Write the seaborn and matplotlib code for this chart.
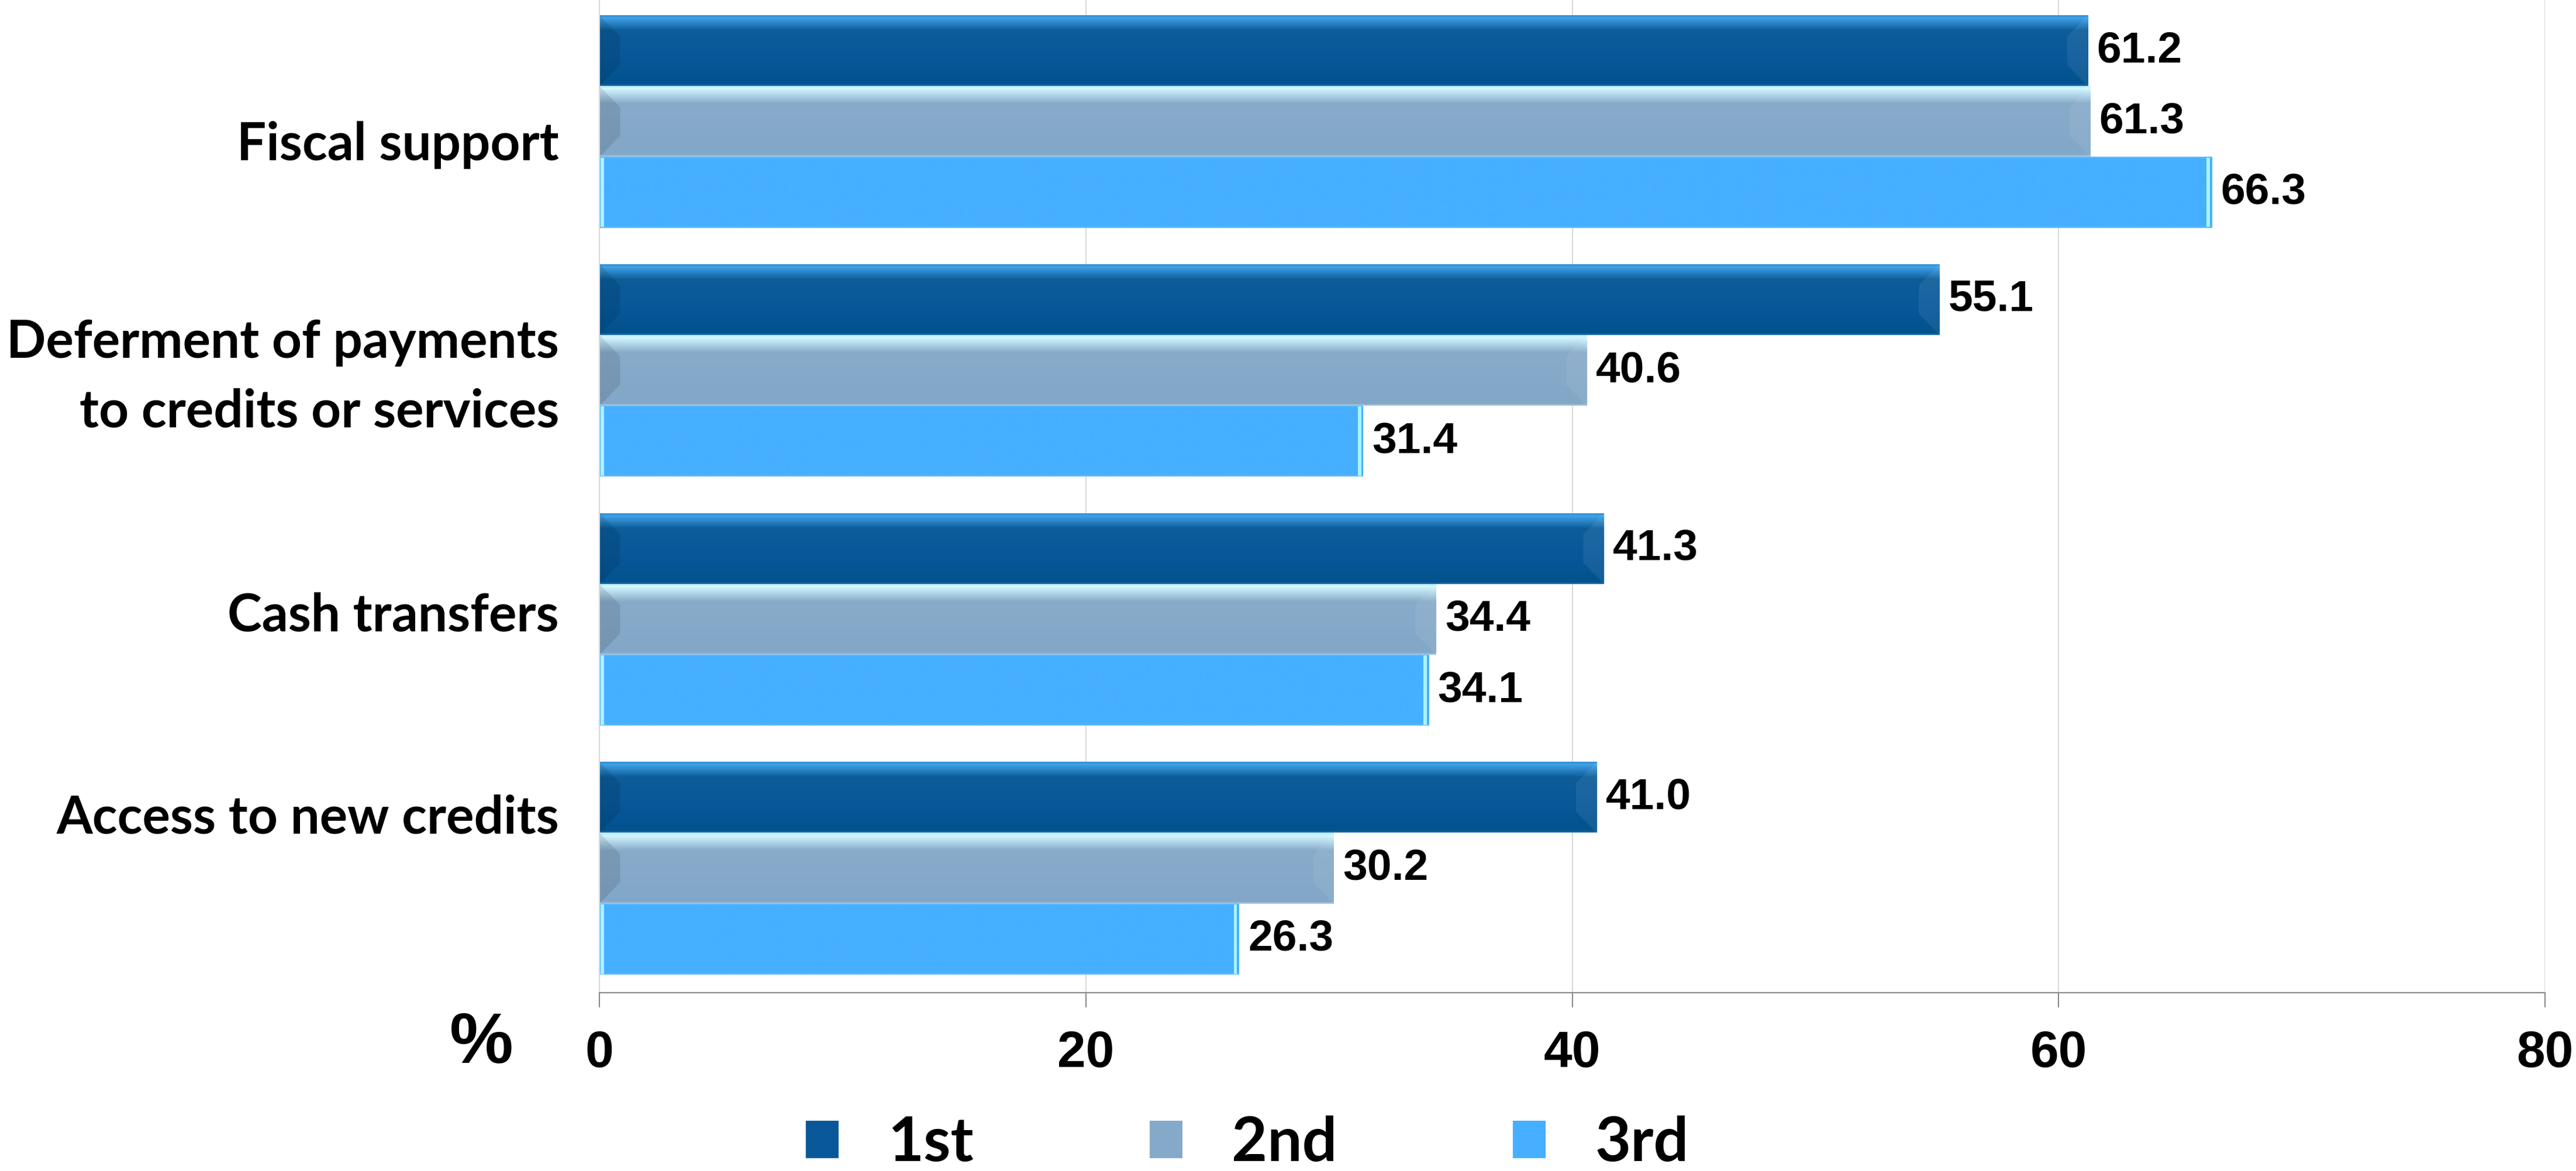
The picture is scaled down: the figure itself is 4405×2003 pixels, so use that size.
import numpy as np
import pandas as pd
import matplotlib
matplotlib.use("Agg")
import matplotlib.pyplot as plt
from matplotlib.colors import LinearSegmentedColormap
from matplotlib.font_manager import FontProperties
from matplotlib.patches import Rectangle, Polygon
from matplotlib.transforms import blended_transform_factory, ScaledTranslation
import seaborn as sns

# ---- data -------------------------------------------------------------
categories = [
    "Fiscal support",
    "Deferment of payments\nto credits or services",
    "Cash transfers",
    "Access to new credits",
]
series = ["1st", "2nd", "3rd"]
first = [61.2, 55.1, 41.3, 41.0]
second = [61.3, 40.6, 34.4, 30.2]
third = [66.3, 31.4, 34.1, 26.3]
x_ticks = [0, 20, 40, 60, 80]

base_colors = ["#08589A", "#85A9C8", "#46AFFF"]

# vertical shading of each series (position from bar top, colour)
shades = {
    "1st": [(0.0, "#2A84C8"), (0.04, "#42A2E8"), (0.22, "#0C5D99"),
            (0.6, "#08589A"), (0.97, "#02528E"), (1.0, "#1F6FAE")],
    "2nd": [(0.0, "#B8E4FA"), (0.04, "#D2F8FF"), (0.25, "#88ABCA"),
            (0.97, "#82A7C7"), (1.0, "#A9CBE6")],
    "3rd": [(0.0, "#63BDFF"), (0.03, "#46AFFF"), (0.97, "#46AFFF"),
            (1.0, "#63BDFF")],
}

# offset of each category label's last baseline below its group centre (points)
label_drop_pt = [47.5, 70.0, 14.5, -43.0]

df = pd.DataFrame({
    "category": categories * len(series),
    "series": np.repeat(series, len(categories)),
    "value": first + second + third,
})

num_font = "Liberation Sans"
cat_font = "Lato"

sns.set_theme(style="white")
fig = plt.figure(figsize=(44.05, 20.03), dpi=100)
ax = fig.add_axes([0.2327, 0.1523, 0.7553, 0.8502])

sns.barplot(
    data=df, x="value", y="category", hue="series",
    order=categories, hue_order=series, palette=base_colors,
    saturation=1, width=0.854, gap=0, orient="h",
    errorbar=None, linewidth=0, ax=ax,
)

# glossy shading and bevelled ends clipped to every bar
for name, container in zip(series, ax.containers):
    cmap = LinearSegmentedColormap.from_list(name, shades[name])
    grad = cmap(np.linspace(0, 1, 256))[:, None, :]
    for patch in container:
        z = patch.get_zorder()
        x0, y0 = patch.get_x(), patch.get_y()
        w, h = patch.get_width(), patch.get_height()
        x1 = x0 + w
        im = ax.imshow(grad, extent=(x0, x1, y0 + h, y0), origin="upper",
                       aspect="auto", interpolation="bilinear", zorder=z + 0.1)
        im.set_clip_path(patch)
        if name == "3rd":
            for xs in (x0 + 0.04, x1 - 0.22):
                ax.add_patch(Rectangle((xs, y0 + 0.01 * h), 0.14, 0.98 * h,
                                       facecolor="#A8F2FF", edgecolor="none",
                                       zorder=z + 0.2))
        else:
            bw = 0.85
            left = Polygon([(x0, y0), (x0 + bw, y0 + 0.3 * h),
                            (x0 + bw, y0 + 0.7 * h), (x0, y0 + h)],
                           closed=True, facecolor="black", alpha=0.10,
                           edgecolor="none", zorder=z + 0.2)
            right = Polygon([(x1, y0), (x1 - bw, y0 + 0.3 * h),
                             (x1 - bw, y0 + 0.7 * h), (x1, y0 + h)],
                            closed=True, facecolor="white", alpha=0.07,
                            edgecolor="none", zorder=z + 0.2)
            for poly in (left, right):
                ax.add_patch(poly)
                poly.set_clip_path(patch)

# value labels
for vals, container in zip([first, second, third], ax.containers):
    ax.bar_label(container, labels=[f"{v:.1f}" for v in vals], padding=11,
                 fontsize=54, fontweight="bold", fontfamily=num_font,
                 color="black")

ax.set_xlim(0, 80)
ax.set_ylim(len(categories) - 0.5, -0.5)
ax.set_xlabel("")
ax.set_ylabel("")

# x axis
ax.set_xticks(x_ticks)
ax.set_xticklabels([str(t) for t in x_ticks], fontfamily=num_font,
                   fontweight="bold", fontsize=63, color="black")
ax.tick_params(axis="x", bottom=True, length=18, width=1.5, color="#898989",
               pad=28, direction="out")

# category labels, right-aligned left of the axis
ax.set_yticks(range(len(categories)))
ax.set_yticklabels([])
ax.tick_params(axis="y", length=0)
label_tf = blended_transform_factory(ax.transAxes, ax.transData)
for i, (cat, drop) in enumerate(zip(categories, label_drop_pt)):
    tf = label_tf + ScaledTranslation(-69 / 100, -drop / 72, fig.dpi_scale_trans)
    ax.text(0, i, cat, transform=tf, ha="right", va="baseline",
            multialignment="right", linespacing=1.55, fontfamily=cat_font,
            fontweight="bold", fontsize=64, color="black")

ax.xaxis.grid(True, color="#D9D9D9", linewidth=1.5)
ax.set_axisbelow(True)
for side in ("top", "right"):
    ax.spines[side].set_visible(False)
ax.spines["left"].set_color("#D9D9D9")
ax.spines["left"].set_linewidth(1.5)
ax.spines["bottom"].set_color("#898989")
ax.spines["bottom"].set_linewidth(1.5)

# unit label
fig.text(823 / 4405, 1 - 1786 / 2003, "%", ha="center", va="center",
         fontsize=88, fontweight="bold", fontfamily=num_font, color="black")

# legend along the bottom
handles, labels = ax.get_legend_handles_labels()
ax.get_legend().remove()
fig.legend(handles, labels, loc="center left",
           bbox_to_anchor=(1378 / 4405, 1 - 1956 / 2003), ncol=3,
           frameon=False, labelcolor="black",
           prop=FontProperties(family=cat_font, weight="bold", size=76),
           handlelength=0.53, handleheight=0.56, handletextpad=0.8,
           columnspacing=2.85, borderpad=0, borderaxespad=0)

fig.savefig("out.png", dpi=100)
